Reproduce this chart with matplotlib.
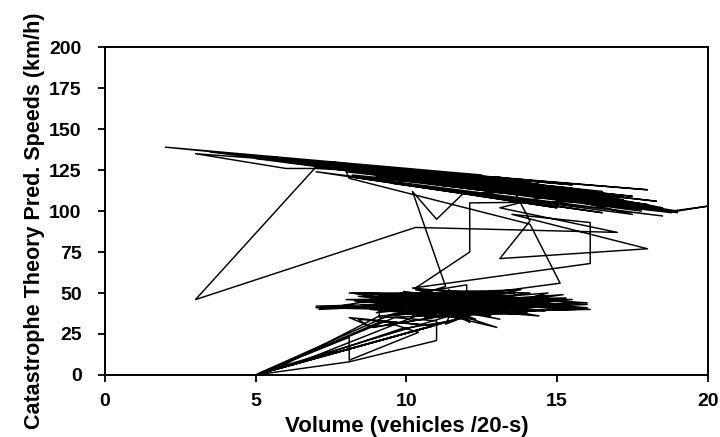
import matplotlib
matplotlib.use("Agg")
import matplotlib.pyplot as plt

# traffic record (volume per 20 s, predicted speed km/h)
tail1_vol = [5.0, 8.1, 11.0, 11.0, 9.6, 5.0, 8.1, 8.1, 10.4, 9.2, 5.3, 10.9, 8.4, 8.8, 11.6, 5.1, 9.5, 12.3]
tail1_spd = [0, 8, 21, 33, 35, 0, 23, 9, 26, 33, 2, 30, 34, 29, 37, 1, 37, 39]

clus1_vol = [7.0, 12.5, 8.0, 13.2, 9.1, 9.1, 14.0, 8.5, 15.8, 10.0, 13.6, 8.2, 12.8, 9.4, 15.0, 10.5,
             14.6, 9.0, 12.0, 12.0, 7.1, 11.8, 9.8, 13.9, 10.2, 15.2, 9.6, 12.9, 10.8, 14.2, 8.9, 13.0,
             10.5, 16.1, 11.2, 13.4, 9.3, 12.6, 10.0, 15.4, 11.0, 14.8, 10.4, 11.3]
clus1_spd = [41, 42, 46, 47, 49, 35, 38, 43, 41, 44, 50, 50, 36, 46, 45, 40,
             48, 38, 51, 55, 40, 44, 50, 42, 36, 49, 42, 45, 47, 44, 47, 29,
             44, 40, 38, 46, 45, 50, 48, 43, 41, 46, 49, 54]

band1_vol = [10.2, 11.0, 11.9, 16.0, 9.0, 17.2, 12.0, 2.0, 12.5, 3.0, 6.0, 7.0, 14.0, 8.0, 15.5, 9.5,
             18.0, 10.5, 16.5, 11.0, 19.0, 20.0, 18.8, 12.5, 17.0, 9.0, 15.0, 11.5, 17.8, 13.0, 16.0,
             10.0, 14.5, 4.5, 17.5, 6.5, 18.3, 8.5, 16.5, 5.5, 15.0, 7.5, 18.0, 9.5, 17.0, 8.2,
             18.8, 10.5, 16.0, 3.5, 15.5, 9.0, 18.5, 11.0, 14.0, 6.0, 17.5, 10.0, 16.5, 8.0, 14.5,
             12.0, 18.0, 7.0]
band1_spd = [112, 95, 111, 112, 126, 109, 121, 139, 122, 135, 126, 126, 119, 128, 116, 126,
             113, 124, 107, 123, 100, 103, 100, 118, 108, 127, 112, 121, 104, 118, 110,
             125, 116, 134, 109, 131, 106, 126, 112, 133, 110, 129, 104, 124, 106, 122,
             99, 121, 108, 136, 114, 125, 101, 119, 113, 130, 103, 124, 104, 127, 116,
             118, 101, 127]

mid_vol = [3.0, 10.3, 17.0, 13.1, 15.5, 11.0, 18.2, 12.8, 16.5, 8.0, 8.1, 14.1, 15.1]
mid_spd = [46, 90, 87, 102, 113, 122, 103, 119, 106, 124, 120, 92, 56]

clus2_vol = [9.0, 14.5, 8.1, 13.5, 10.1, 15.6, 9.5, 12.2, 10.3, 14.1, 9.2, 13.8, 11.0, 16.0, 10.6,
             12.7, 8.6, 14.3, 10.8, 13.1, 9.9, 15.3, 11.4, 11.4, 12.4, 9.7, 14.9, 10.9, 12.1, 11.5,
             13.7, 10.3, 12.0]
clus2_spd = [41, 43, 50, 48, 38, 40, 47, 45, 52, 50, 39, 37, 48, 41, 35,
             48, 41, 46, 43, 34, 45, 47, 42, 52, 38, 49, 41, 46, 32, 49,
             44, 42, 36]

tail2_vol = [5.0, 10.9, 8.1, 8.9, 12.5, 9.1, 5.6, 11.5, 9.8, 6.2, 10.6, 14.0, 8.3, 13.3, 10.3]
tail2_spd = [0, 30, 35, 29, 40, 36, 3, 33, 28, 6, 38, 44, 45, 39, 53]

band2_vol = [12.1, 12.1, 17.0, 12.0, 15.8, 8.5, 14.5, 10.0, 17.5, 11.5, 16.2, 13.0, 18.5, 9.5,
             15.0, 12.0, 17.8, 10.5, 16.8, 5.0, 13.5, 9.0, 17.8, 7.5, 16.5, 11.5, 19.0, 9.5,
             15.5, 12.5, 17.2, 8.5, 15.0, 10.5, 18.0, 11.0, 13.0, 8.1, 16.5, 9.5, 18.5,
             7.0, 15.0, 10.0, 17.5, 14.5, 13.5,
             14.1, 13.1, 18.0, 13.5, 16.1, 16.1, 10.2]
band2_spd = [75, 105, 106, 117, 113, 127, 115, 124, 105, 120, 109, 121, 102, 125,
             114, 122, 101, 122, 104, 132, 117, 121, 100, 130, 110, 118, 99, 126,
             109, 119, 107, 124, 107, 123, 103, 116, 114, 121, 99, 117, 97,
             124, 102, 116, 98, 111, 115,
             94, 71, 77, 98, 93, 68, 53]

clus3_vol = [15.0, 8.7, 13.9, 9.6, 15.7, 10.4, 12.9, 8.3, 14.4, 11.1, 13.2, 9.8, 16.0, 10.7, 12.4,
             9.2, 14.7, 11.6, 13.6, 7.0, 12.2, 8.4, 15.5, 9.3, 13.8, 10.6, 16.0, 8.8, 12.3, 9.9,
             14.6, 10.2, 13.0, 11.3, 11.8, 10.1]
clus3_spd = [45, 48, 40, 37, 44, 50, 42, 45, 36, 47, 51, 40, 43, 39, 47,
             42, 50, 35, 45, 42, 40, 48, 46, 36, 52, 50, 44, 40, 34, 51,
             39, 47, 43, 31, 50, 44]

volume = tail1_vol + clus1_vol + band1_vol + mid_vol + clus2_vol + tail2_vol + band2_vol + clus3_vol
speed = tail1_spd + clus1_spd + band1_spd + mid_spd + clus2_spd + tail2_spd + band2_spd + clus3_spd

plt.rcParams['font.family'] = ['Liberation Sans', 'DejaVu Sans']
plt.rcParams['font.weight'] = 'bold'

fig = plt.figure(figsize=(7.2, 4.37), dpi=100)
ax = fig.add_axes([0.146, 0.142, 0.837, 0.750])
ax.plot(volume, speed, color='black', lw=1.05)

ax.set_xlim(0, 20)
ax.set_ylim(0, 200)
ax.set_xticks([0, 5, 10, 15, 20])
ax.set_yticks(range(0, 201, 25))
ax.tick_params(direction='out', length=5, width=1.3, labelsize=14)
ax.tick_params(axis='x', pad=8)
ax.tick_params(axis='y', pad=12)
for s in ax.spines.values():
    s.set_linewidth(1.4)
ax.set_xlabel("Volume (vehicles /20-s)", fontsize=16, fontweight='bold', labelpad=4)
ax.set_ylabel("Catastrophe Theory Pred. Speeds (km/h)", fontsize=15.5, fontweight='bold')
ax.yaxis.set_label_coords(-0.1, 0.47)

fig.savefig("out.png", dpi=100)
